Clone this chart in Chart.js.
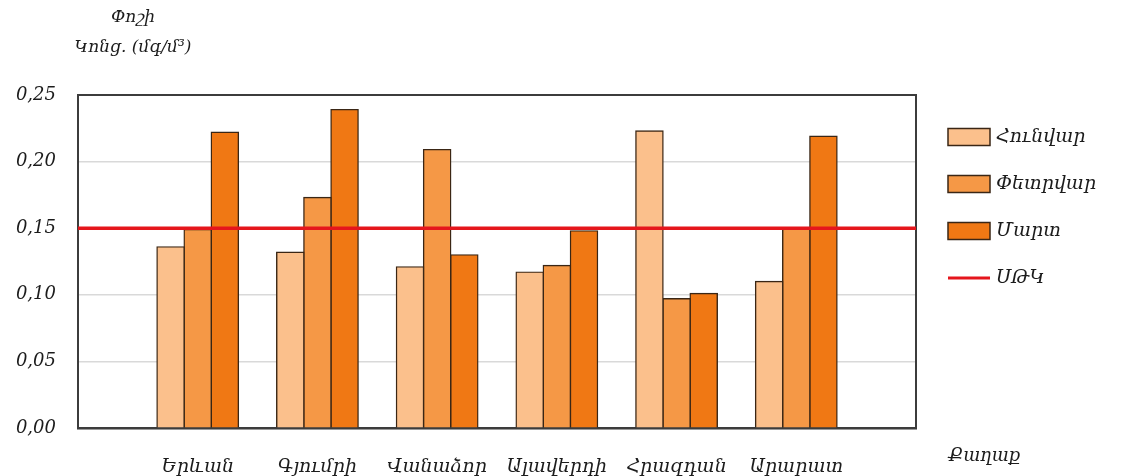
<!DOCTYPE html>
<html>
<head>
<meta charset="utf-8">
<script src="https://cdn.jsdelivr.net/npm/chart.js@4/dist/chart.umd.min.js"></script>
<style>
  html, body { margin: 0; padding: 0; background: #ffffff; }
  #wrap { width: 1122px; height: 476px; position: relative; }
</style>
</head>
<body>
<div id="wrap"><canvas id="chart"></canvas></div>
<script>
// Dust concentration (mg/m³) by city, January–March
const cities = ['Երևան', 'Գյումրի', 'Վանաձոր', 'Ալավերդի', 'Հրազդան', 'Արարատ'];
const january  = [0.136, 0.132, 0.121, 0.117, 0.223, 0.110];
const february = [0.149, 0.173, 0.209, 0.122, 0.097, 0.150];
const march    = [0.222, 0.239, 0.130, 0.148, 0.101, 0.219];
// Maximum permissible concentration, spanning the whole plot width (one point per slot edge)
const limitValues = [0.15, 0.15, 0.15, 0.15, 0.15, 0.15, 0.15, 0.15];
const yTickValues = [0, 0.05, 0.10, 0.15, 0.20, 0.25];
const seriesNames = ['Հունվար', 'Փետրվար', 'Մարտ', 'ՍԹԿ'];
const axisTitleLines = ['Փոշի', 'Կոնց. (մգ/մ³)'];
const xAxisTitle = 'Քաղաք';

const FONT_FAMILY = '"DejaVu Serif", "DejaVu Sans", serif';
const TEXT_COLOR = '#1c1c1c';
const colors = ['#FBC08C', '#F59846', '#F07814'];
const barBorder = '#3a2615';
const limitColor = '#E5161C';

// Blank slots at both ends let the limit line run edge to edge while bars sit between
const labels = [''].concat(cities, ['']);
const pad = arr => [null].concat(arr, [null]);

const barDataset = (name, values, color) => ({
  type: 'bar',
  label: name,
  data: pad(values),
  backgroundColor: color,
  borderColor: barBorder,
  borderWidth: 1.4,
  inflateAmount: 0.7,
  categoryPercentage: 0.68,
  barPercentage: 1.0,
  order: 1
});

// Frame around the plot area
const framePlugin = {
  id: 'frame',
  beforeDatasetsDraw(chart) {
    const { ctx, chartArea: a } = chart;
    ctx.save();
    ctx.strokeStyle = '#3c3c3c';
    ctx.lineWidth = 2;
    ctx.strokeRect(a.left, a.top, a.right - a.left, a.bottom - a.top);
    ctx.restore();
  }
};

// Axis titles and the right-hand legend
const annotationsPlugin = {
  id: 'annotations',
  afterDraw(chart) {
    const { ctx } = chart;
    ctx.save();
    ctx.fillStyle = TEXT_COLOR;
    ctx.font = 'italic 17px ' + FONT_FAMILY;
    ctx.textAlign = 'center';
    ctx.textBaseline = 'middle';
    ctx.fillText(axisTitleLines[0], 133, 18);
    ctx.fillText(axisTitleLines[1], 133, 48);
    ctx.textAlign = 'left';
    ctx.font = 'italic 18px ' + FONT_FAMILY;
    ctx.fillText(xAxisTitle, 948, 456);

    // Legend
    const rowY = [137, 184, 231, 278];
    const boxX = 948, boxW = 42, boxH = 17;
    chart.data.datasets.forEach((ds, i) => {
      const y = rowY[i];
      if (ds.type === 'bar') {
        ctx.fillStyle = ds.backgroundColor;
        ctx.fillRect(boxX, y - boxH / 2, boxW, boxH);
        ctx.strokeStyle = barBorder;
        ctx.lineWidth = 1.5;
        ctx.strokeRect(boxX, y - boxH / 2, boxW, boxH);
      } else {
        ctx.strokeStyle = ds.borderColor;
        ctx.lineWidth = 3;
        ctx.beginPath();
        ctx.moveTo(boxX, y);
        ctx.lineTo(boxX + boxW, y);
        ctx.stroke();
      }
      ctx.fillStyle = TEXT_COLOR;
      ctx.font = 'italic 19px ' + FONT_FAMILY;
      ctx.textAlign = 'left';
      ctx.textBaseline = 'middle';
      ctx.fillText(ds.label, boxX + boxW + 6, y);
    });
    ctx.restore();
  }
};

new Chart(document.getElementById('chart'), {
  data: {
    labels: labels,
    datasets: [
      barDataset(seriesNames[0], january, colors[0]),
      barDataset(seriesNames[1], february, colors[1]),
      barDataset(seriesNames[2], march, colors[2]),
      {
        type: 'line',
        label: seriesNames[3],
        data: limitValues,
        borderColor: limitColor,
        borderWidth: 3.5,
        pointRadius: 0,
        fill: false,
        order: 0
      }
    ]
  },
  options: {
    responsive: true,
    maintainAspectRatio: false,
    animation: false,
    devicePixelRatio: 1,
    layout: { padding: { left: 0, top: 95, right: 206, bottom: 0 } },
    plugins: {
      legend: { display: false },
      tooltip: { enabled: false },
      title: { display: false }
    },
    scales: {
      x: {
        type: 'category',
        offset: false,
        grid: { display: false, drawTicks: false },
        border: { display: true, color: '#333333', width: 2.5 },
        ticks: {
          color: TEXT_COLOR,
          font: { family: FONT_FAMILY, size: 19, style: 'italic' },
          padding: 28,
          maxRotation: 0,
          autoSkip: false
        },
        afterFit(scale) { scale.height = 48; }
      },
      y: {
        min: 0,
        max: 0.25,
        afterBuildTicks(scale) { scale.ticks = yTickValues.map(v => ({ value: v })); },
        grid: { color: '#d9d9d9', lineWidth: 1.5, drawTicks: false },
        border: { display: true, color: '#3c3c3c', width: 2 },
        ticks: {
          color: TEXT_COLOR,
          font: { family: FONT_FAMILY, size: 18, style: 'italic' },
          padding: 22,
          callback: v => Number(v).toFixed(2).replace('.', ',')
        },
        afterFit(scale) { scale.width = 78; }
      }
    }
  },
  plugins: [framePlugin, annotationsPlugin]
});
</script>
</body>
</html>
